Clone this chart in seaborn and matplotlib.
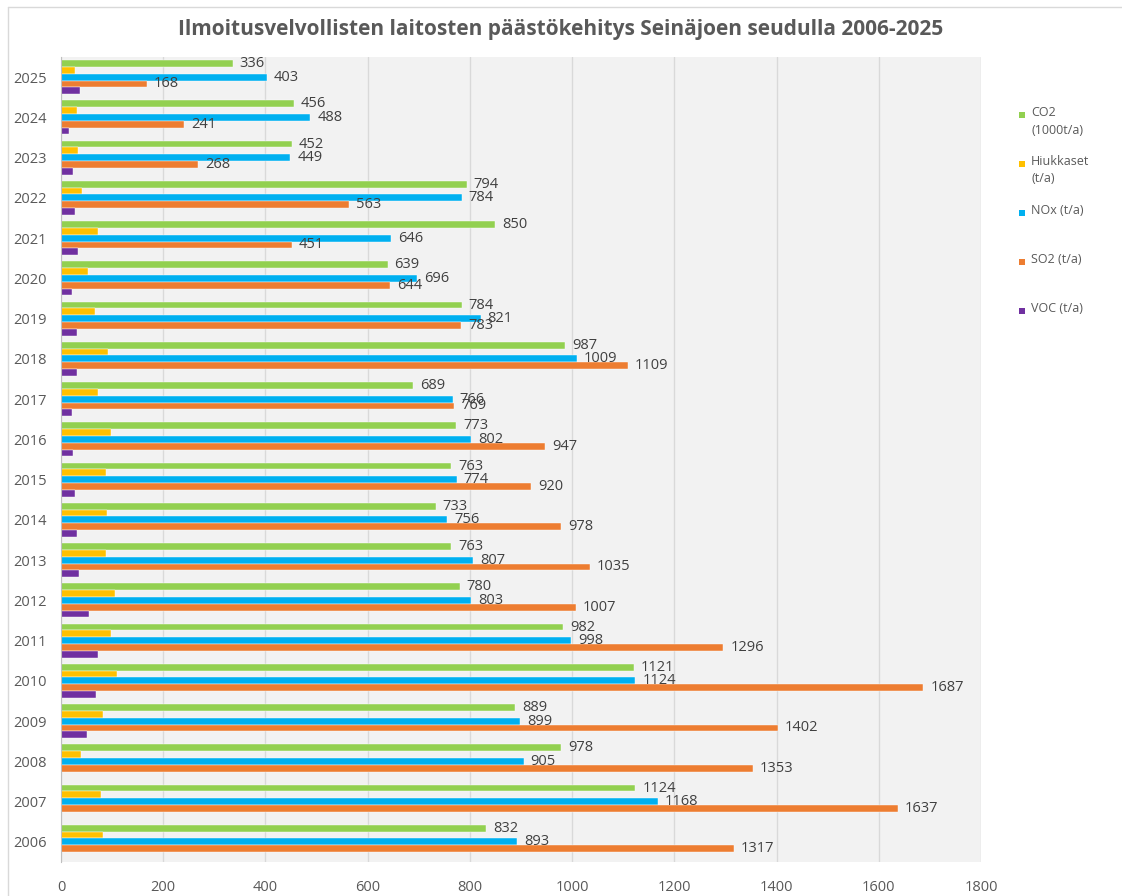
import pandas as pd
import numpy as np
import matplotlib.pyplot as plt
import seaborn as sns
from matplotlib.patches import Rectangle
from matplotlib.lines import Line2D

# data
years = list(range(2006, 2026))
co2 = [832, 1124, 978, 889, 1121, 982, 780, 763, 733, 763, 773, 689, 987, 784, 639, 850, 794, 452, 456, 336]
hiukkaset = [82, 78, 40, 83, 109, 97, 106, 89, 90, 89, 97, 73, 91, 67, 53, 72, 42, 34, 31, 28]
nox = [893, 1168, 905, 899, 1124, 998, 803, 807, 756, 774, 802, 766, 1009, 821, 696, 646, 784, 449, 488, 403]
so2 = [1317, 1637, 1353, 1402, 1687, 1296, 1007, 1035, 978, 920, 947, 769, 1109, 783, 644, 451, 563, 268, 241, 168]
voc = [0, 0, 0, 50, 68, 72, 55, 36, 31, 28, 23, 21, 31, 31, 21, 33, 27, 24, 16, 37]

series = ['CO2\n(1000t/a)', 'Hiukkaset\n(t/a)', 'NOx (t/a)', 'SO2 (t/a)', 'VOC (t/a)']
colors = ['#92d050', '#ffc000', '#00b0f0', '#ed7d31', '#7030a0']

rows = []
for name, vals in zip(series, [co2, hiukkaset, nox, so2, voc]):
    for y, v in zip(years, vals):
        rows.append({'year': str(y), 'series': name, 'value': v})
df = pd.DataFrame(rows)
year_order = [str(y) for y in reversed(years)]

sns.set_style('white')
plt.rcParams['font.family'] = ['Open Sans', 'DejaVu Sans']

W, H = 1122, 896
fig = plt.figure(figsize=(W / 100, H / 100), dpi=100)
ax = fig.add_axes([61 / W, 34 / H, 920 / W, 805 / H])
ax.set_facecolor('#f2f2f2')

sns.barplot(data=df, y='year', x='value', hue='series', order=year_order,
            hue_order=series, palette=colors, orient='h', width=0.84,
            ax=ax, legend=False, saturation=1, edgecolor='white', linewidth=0.3)

# value labels for CO2, NOx, SO2
for i in [0, 2, 3]:
    ax.bar_label(ax.containers[i], fmt='%d', padding=5, fontsize=10.5, color='#404040')

ax.set_xlim(0, 1800)
ax.set_xticks(np.arange(0, 1801, 200))
ax.grid(axis='x', color='#d9d9d9', linewidth=1)
ax.set_axisbelow(True)
ax.set_xlabel('')
ax.set_ylabel('')
ax.tick_params(axis='both', labelsize=10.5, colors='#595959', length=0)
ax.tick_params(axis='x', pad=13)
ax.tick_params(axis='y', pad=10)
for s in ['top', 'right', 'bottom']:
    ax.spines[s].set_visible(False)
ax.spines['left'].set_color('#bfbfbf')

fig.text(0.5, 1 - 30 / H, 'Ilmoitusvelvollisten laitosten päästökehitys Seinäjoen seudulla 2006-2025',
         ha='center', va='center', fontsize=15, color='#595959', fontweight='bold')

# legend, marker next to first line of each label
leg_top, leg_step = 115, 49
for k, (name, c) in enumerate(zip(series, colors)):
    yc = 1 - (leg_top + k * leg_step) / H
    fig.add_artist(Rectangle((1019 / W, yc - 3 / H), 6 / W, 6 / H,
                             facecolor=c, edgecolor='none', transform=fig.transFigure))
    fig.text(1031 / W, yc + 9 / H, name, ha='left', va='top', fontsize=9,
             color='#595959', linespacing=1.45)

# outer chart border
fig.add_artist(Line2D([8 / W, 8 / W], [0, 1 - 7 / H], color='#d9d9d9', lw=1))
fig.add_artist(Line2D([8 / W, 1], [1 - 7 / H, 1 - 7 / H], color='#d9d9d9', lw=1))

fig.savefig('out.png', dpi=100)
